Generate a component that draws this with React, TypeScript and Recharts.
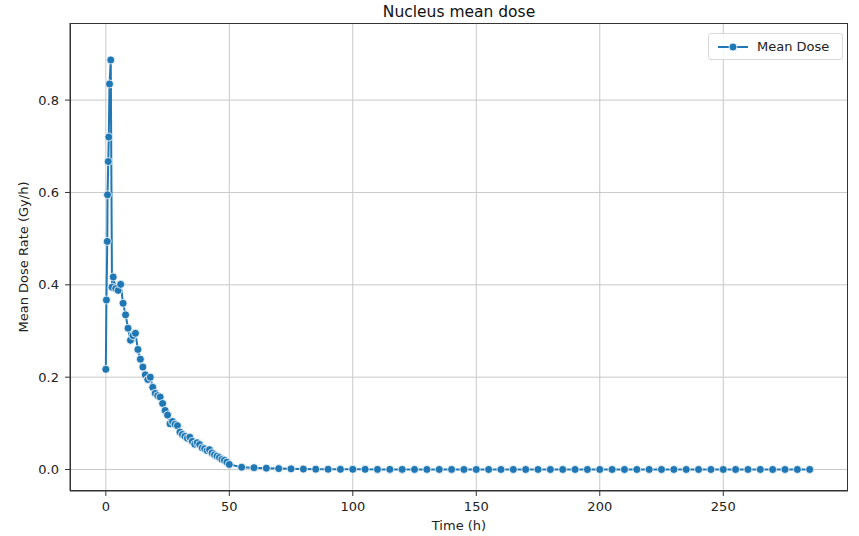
import React from 'react';
import { LineChart, Line, XAxis, YAxis, CartesianGrid } from 'recharts';

// time points (h)
const times = [
  0, 0.25, 0.6, 0.7, 1.0, 1.2, 1.5, 2.0, 2.5,
  3, 4, 5, 6, 7, 8, 9, 10, 11, 12, 13, 14, 15, 16, 17, 18, 19, 20,
  21, 22, 23, 24, 25, 26, 27, 28, 29, 30, 31, 32, 33, 34, 35, 36, 37, 38,
  39, 40, 41, 42, 43, 44, 45, 46, 47, 48, 49, 50,
  55, 60, 65, 70, 75, 80, 85, 90, 95, 100, 105, 110, 115, 120, 125, 130,
  135, 140, 145, 150, 155, 160, 165, 170, 175, 180, 185, 190, 195, 200,
  205, 210, 215, 220, 225, 230, 235, 240, 245, 250, 255, 260, 265, 270,
  275, 280, 285,
];

// mean dose rate (Gy/h)
const meanDose = [
  0.217, 0.367, 0.494, 0.595, 0.667, 0.72, 0.835, 0.887, 0.395,
  0.417, 0.392, 0.388, 0.401, 0.36, 0.335, 0.306, 0.28, 0.29, 0.295, 0.26, 0.239, 0.222, 0.205, 0.195, 0.2, 0.178, 0.165,
  0.16, 0.157, 0.143, 0.128, 0.118, 0.099, 0.104, 0.098, 0.095, 0.081, 0.076, 0.072, 0.068, 0.07, 0.061, 0.055, 0.058, 0.054,
  0.047, 0.045, 0.041, 0.043, 0.036, 0.032, 0.029, 0.026, 0.022, 0.02, 0.016, 0.011,
  0.005, 0.004, 0.003, 0.002, 0.0015, 0.001, 0.0008, 0.0006, 0.0005, 0.0004, 0.0004, 0.0003, 0.0003, 0.0003, 0.0002, 0.0002,
  0.0002, 0.0002, 0.0001, 0.0001, 0.0001, 0.0001, 0.0001, 0.0001, 0.0001, 0.0001, 0.0001, 0.0001, 0.0001, 0.0001,
  0.0001, 0.0001, 0.0001, 0.0001, 0.0001, 0.0001, 0.0001, 0.0001, 0.0001, 0.0001, 0.0001, 0.0001, 0.0001, 0.0001,
  0.0001, 0.0001, 0.0001,
];

const xTicks = [0, 50, 100, 150, 200, 250];
const yTicks = [0, 0.2, 0.4, 0.6, 0.8];

const BLUE = '#1f77b4';
const FONT = '"DejaVu Sans", sans-serif';

const data = times.map((t, i) => ({ time: t, dose: meanDose[i] }));

const LegendBox = () => (
  <div style={{
    position: 'absolute', left: 708, top: 33,
    width: 135, height: 27, boxSizing: 'border-box', background: 'rgba(255,255,255,0.8)',
    border: '1px solid #d9d9d9', borderRadius: 3, display: 'flex', alignItems: 'center',
    fontFamily: FONT, fontSize: 13, color: '#222',
  }}>
    <svg width={48} height={24}>
      <line x1={9} x2={39} y1={12} y2={12} stroke={BLUE} strokeWidth={2} />
      <circle cx={24} cy={12} r={4} fill={BLUE} stroke="#fff" strokeWidth={0.8} />
    </svg>
    <span>Mean Dose</span>
  </div>
);

export default function App() {
  return (
    <div style={{ position: 'fixed', left: 0, top: 0, width: 859, height: 536, background: '#fff' }}>
      <div style={{
        position: 'absolute', left: 70, width: 778, top: 3, textAlign: 'center',
        fontFamily: FONT, fontSize: 15.5, color: '#111',
      }}>Nucleus mean dose</div>
      <LineChart width={859} height={536} data={data} margin={{ top: 23, right: 11, bottom: 0, left: 10 }}>
        <CartesianGrid stroke="#c8c8c8" strokeWidth={1} verticalValues={xTicks} horizontalValues={yTicks} />
        <XAxis
          dataKey="time" type="number" domain={[-14.5, 300.5]} ticks={xTicks} allowDataOverflow
          height={45} tickSize={5} tickMargin={6} stroke="#333"
          tick={{ fill: '#222', fontSize: 13, fontFamily: FONT }}
          label={{ value: 'Time (h)', position: 'insideBottom', offset: 6, fill: '#222', fontSize: 13, fontFamily: FONT }}
        />
        <YAxis
          type="number" domain={[-0.0465, 0.967]} ticks={yTicks} allowDataOverflow
          width={60} tickSize={5} tickMargin={6} stroke="#333"
          tickFormatter={(v: number) => v.toFixed(1)}
          tick={{ fill: '#222', fontSize: 13, fontFamily: FONT }}
          label={{ value: 'Mean Dose Rate (Gy/h)', angle: -90, position: 'insideLeft', offset: 13, fill: '#222', fontSize: 13, fontFamily: FONT, style: { textAnchor: 'middle' } }}
        />
        <Line
          dataKey="dose" name="Mean Dose" stroke={BLUE} strokeWidth={2} isAnimationActive={false}
          dot={{ r: 4, fill: BLUE, stroke: '#fff', strokeWidth: 0.8 }} activeDot={false}
        />
      </LineChart>
      <LegendBox />
      <div style={{
        position: 'absolute', left: 70, top: 23, width: 778, height: 468, boxSizing: 'border-box',
        border: '1px solid #333', pointerEvents: 'none',
      }} />
    </div>
  );
}
